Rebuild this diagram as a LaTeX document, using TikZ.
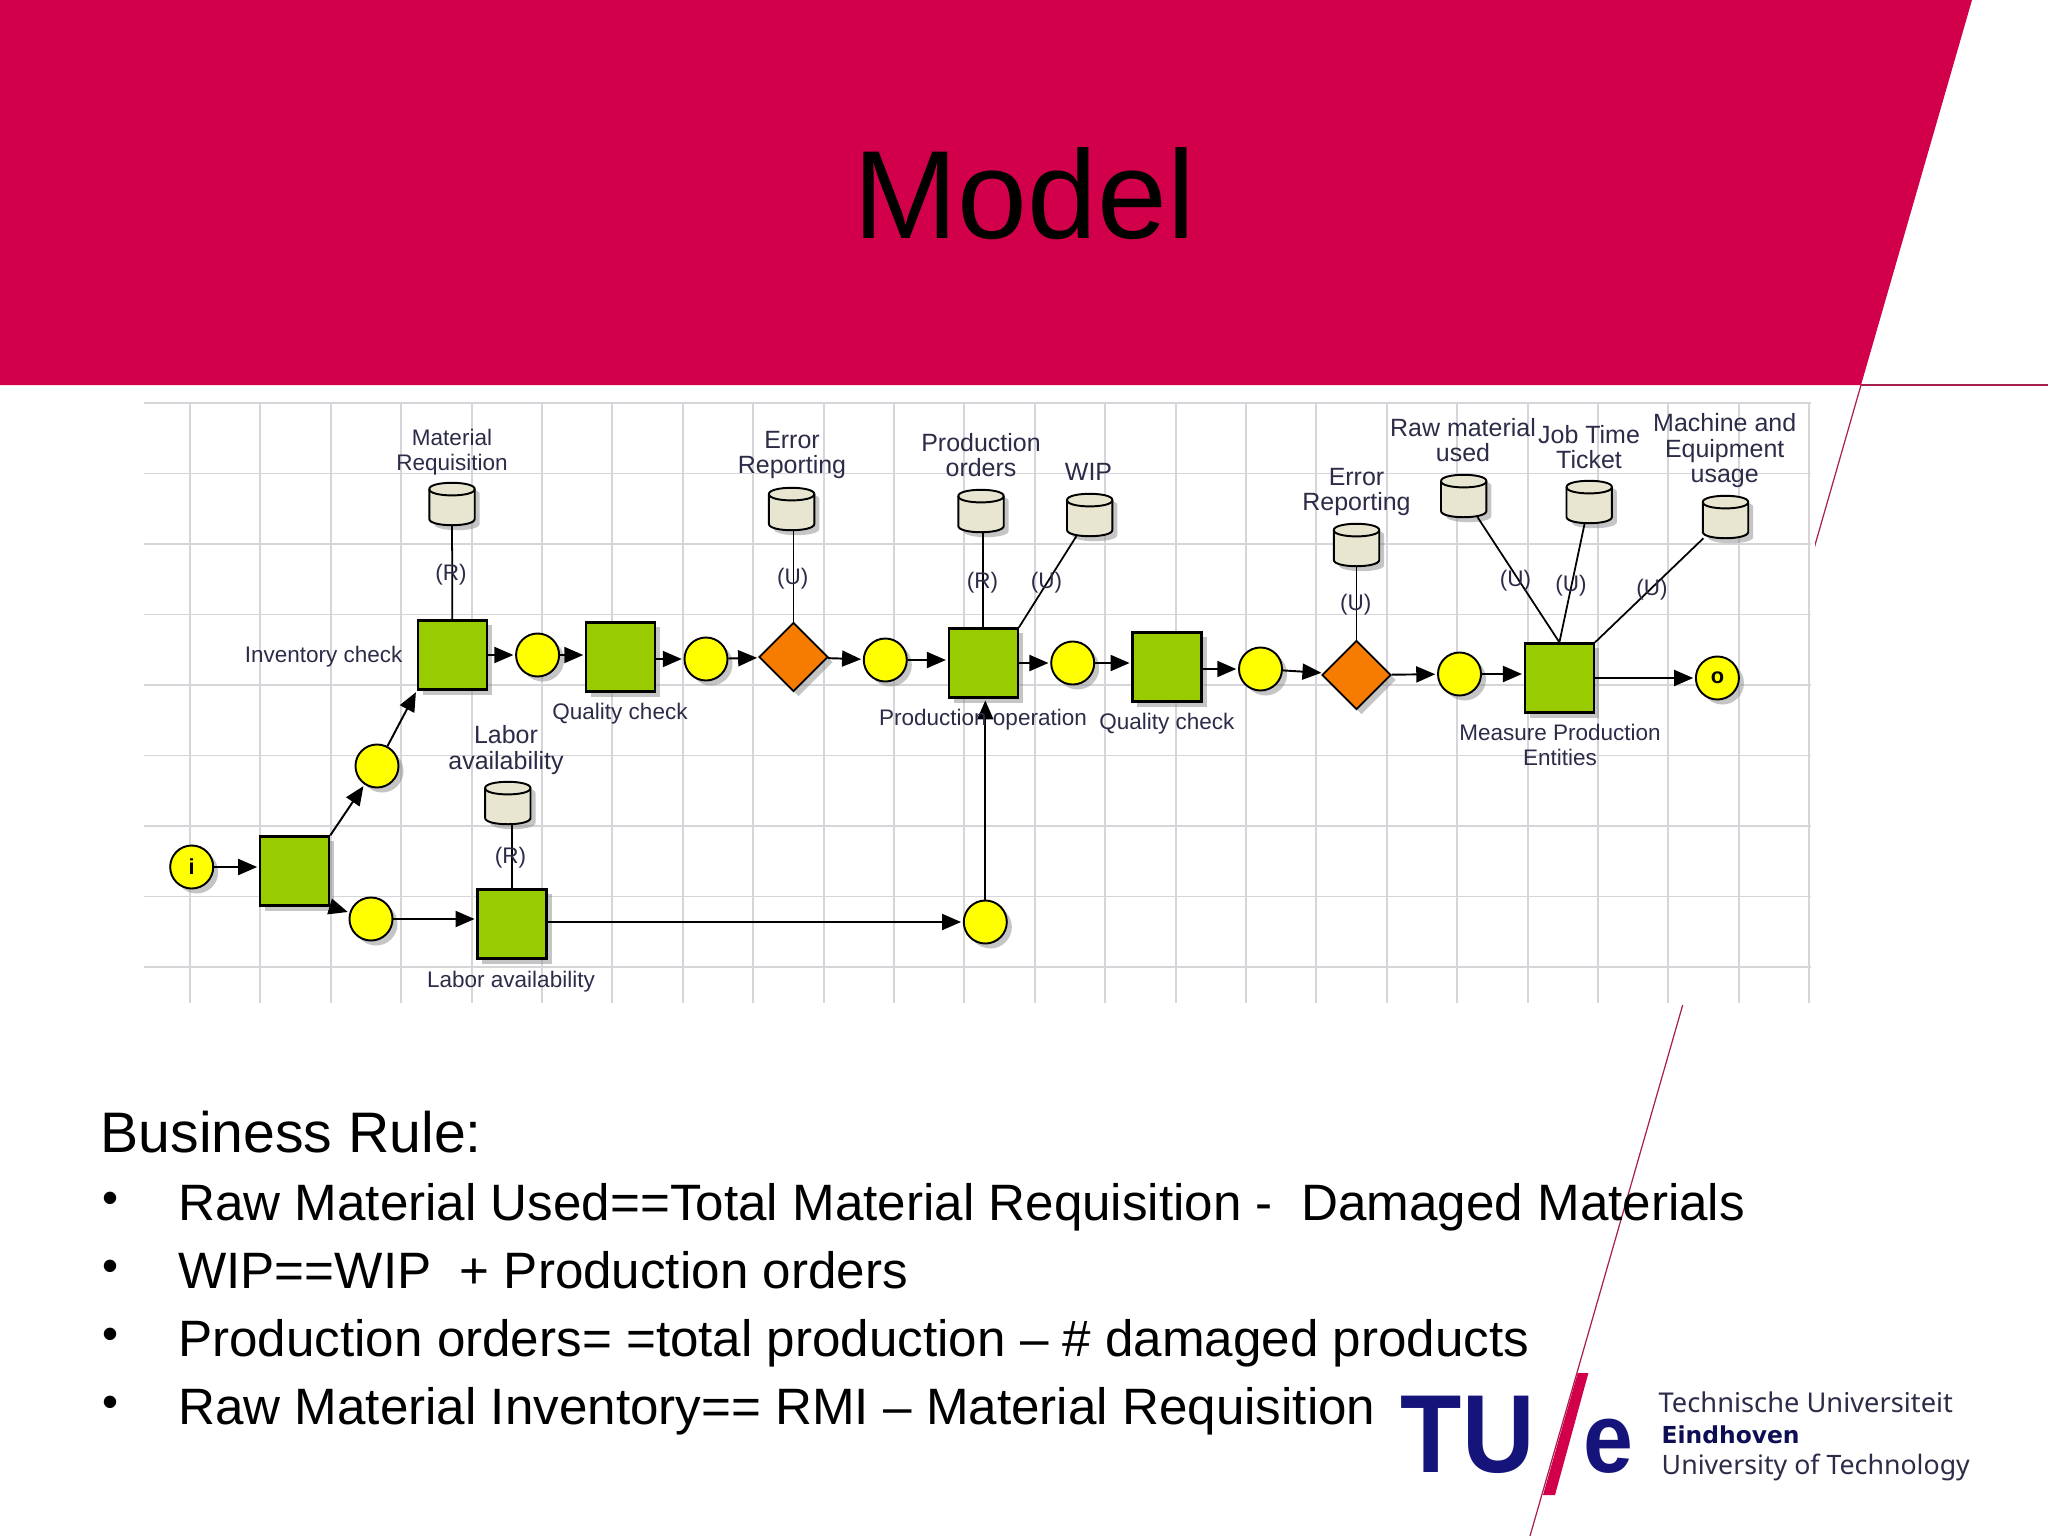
\documentclass[tikz,border=0pt]{standalone}
\usepackage{fontspec}
\setmainfont{Liberation Sans}
\newfontfamily\logofont{Noto Sans}
\newfontfamily\logobold{DejaVu Sans}
\usetikzlibrary{arrows.meta,shapes.geometric,shadows}

\definecolor{tuered}{HTML}{D2004B}
\definecolor{tueblue}{HTML}{14147A}
\definecolor{slantred}{HTML}{A8204C}
\definecolor{gridgray}{HTML}{D6D6DA}
\definecolor{labelink}{HTML}{2C2C48}
\definecolor{taskgreen}{HTML}{99CC00}
\definecolor{placeyellow}{HTML}{FFFF00}
\definecolor{xororange}{HTML}{F57C00}
\definecolor{storebeige}{HTML}{E8E6D0}

\tikzset{
	flat/.style={drop shadow={shadow xshift=0.05cm,shadow yshift=-0.05cm,fill=black!45}},
	task/.style={draw,line width=0.65pt,fill=taskgreen,minimum size=0.69cm,inner sep=0,flat},
	place/.style={circle,draw,line width=0.55pt,fill=placeyellow,minimum size=0.43cm,inner sep=0,flat,font=\fontsize{6.2}{7}\selectfont\bfseries},
	choice/.style={diamond,draw,line width=0.5pt,fill=xororange,minimum width=0.69cm,minimum height=0.69cm,inner sep=0,flat},
	store/.style={minimum width=0.44cm,minimum height=0.41cm,inner sep=0},
	storebody/.style={draw,line width=0.55pt,fill=storebeige,flat},
	lbl/.style={font=\fontsize{6.4}{7.25}\selectfont,text=labelink,align=center,inner sep=0},
	lblwide/.style={font=\fontsize{7.1}{7.25}\selectfont,text=labelink,align=center,inner sep=0},
	flow/.style={line width=0.55pt,-{Triangle[length=0.19cm,width=0.16cm]},shorten >=0.5pt},
	use/.style={line width=0.5pt},
	rule/.style={font=\fontsize{14.55}{16}\selectfont,anchor=base west,inner sep=0}
}

% a named can: name, x, y
\newcommand{\storecan}[3]{
	\node (#1) [store] at (#2,#3) {};
	\draw [storebody] ([yshift=-0.063cm]#1.north west)
		.. controls +(0,0.084cm) and +(0,0.084cm) .. ([yshift=-0.063cm]#1.north east)
		-- ([yshift=0.063cm]#1.south east)
		.. controls +(0,-0.084cm) and +(0,-0.084cm) .. ([yshift=0.063cm]#1.south west) -- cycle;
	\draw [line width=0.55pt] ([yshift=-0.063cm]#1.north west)
		.. controls +(0,-0.084cm) and +(0,-0.084cm) .. ([yshift=-0.063cm]#1.north east);
}

\begin{document}
\begin{tikzpicture}[x=0.01cm,y=-0.01cm]
	\useasboundingbox (0,0) rectangle (2048,1536);

	% slide background
	\draw [slantred, line width=0.35pt] (1861,385) -- (2048,385);
	\draw [slantred, line width=0.35pt] (1861,385) -- (1530,1536);
	\fill [tuered] (0,0) -- (1972,0) -- (1861,385) -- (0,385) -- cycle;
	\fill [white] (130,392) rectangle (1815,1005);
	\node (title) [anchor=base, inner sep=0, font=\fontsize{35.7}{40}\selectfont] at (1024,238) {Model};

	% grid
	\foreach \i in {0,...,23}
		\draw [gridgray, line width=0.55pt] ({190+70.4*\i},403) -- ({190+70.4*\i},1003);
	\foreach \j in {0,...,8}
		\draw [gridgray, line width=0.55pt] (144,{403+70.5*\j}) -- (1811,{403+70.5*\j});

	% places
	\node (pI) [place] at (191.7,867) {i};
	\node (pUp) [place] at (377,766) {};
	\node (pLow) [place] at (371,919) {};
	\node (pA) [place] at (537.6,655) {};
	\node (pB) [place] at (706,659) {};
	\node (pC) [place] at (885.3,660) {};
	\node (pD) [place] at (1072.7,663) {};
	\node (pE) [place] at (1260.5,669) {};
	\node (pF) [place] at (1459.5,674) {};
	\node (pO) [place] at (1717.4,678) {o};
	\node (pJoin) [place] at (985.3,922) {};

	% tasks
	\node (tSplit) [task] at (294.6,871) {};
	\node (tInv) [task] at (452.4,655) {};
	\node (tQualA) [task] at (620.7,657) {};
	\node (tLabor) [task] at (512,924) {};
	\node (tProd) [task] at (983.3,663) {};
	\node (tQualB) [task] at (1167,667) {};
	\node (tMeas) [task] at (1559.4,678) {};

	% choices
	\node (xA) [choice] at (793.5,657) {};
	\node (xB) [choice] at (1356.5,675) {};

	% stores
	\storecan{sMat}{452}{504}
	\storecan{sLab}{507.8}{803}
	\storecan{sErrA}{791.6}{509}
	\storecan{sOrd}{981}{511}
	\storecan{sWip}{1089.7}{515}
	\storecan{sErrB}{1356.5}{545}
	\storecan{sRaw}{1463.7}{496}
	\storecan{sJob}{1589.2}{502}
	\storecan{sMach}{1725.5}{517}

	% flow
	\draw [flow] (pI) -- (pI -| tSplit.west);
	\draw [flow] (tSplit.north east) -- (pUp);
	\draw [flow] (pUp) -- (tInv.south west);
	\draw [flow] (tSplit.south east) -- (pLow);
	\draw [flow] (pLow) -- (pLow -| tLabor.west);
	\draw [flow] (pJoin -| tLabor.east) -- (pJoin);
	\draw [flow] (pJoin) -- (pJoin |- tProd.south);
	\draw [flow] (pA -| tInv.east) -- (pA);
	\draw [flow] (pA) -- (pA -| tQualA.west);
	\draw [flow] (pB -| tQualA.east) -- (pB);
	\draw [flow] (pB) -- (xA);
	\draw [flow] (xA) -- (pC);
	\draw [flow] (pC) -- (pC -| tProd.west);
	\draw [flow] (pD -| tProd.east) -- (pD);
	\draw [flow] (pD) -- (pD -| tQualB.west);
	\draw [flow] (pE -| tQualB.east) -- (pE);
	\draw [flow] (pE) -- (xB);
	\draw [flow] (xB) -- (pF);
	\draw [flow] (pF) -- (pF -| tMeas.west);
	\draw [flow] (pO -| tMeas.east) -- (pO);

	% data links
	\draw [use] (sMat) -- (tInv);
	\draw [use] (tLabor.north |- sLab.south) -- (tLabor.north);
	\draw [use] (xA.north |- sErrA.south) -- (xA.north);
	\draw [use] (tProd.north |- sOrd.south) -- (tProd.north);
	\draw [use] (sWip) -- (tProd.north east);
	\draw [use] (sErrB) -- (xB);
	\draw [use] (sRaw) -- (tMeas.north);
	\draw [use] (sJob) -- (tMeas.north);
	\draw [use] (sMach) -- (tMeas.north east);

	% labels
	\node (lMat) [lbl] at (452,452) {Material\\Requisition};
	\node (lInv) [lbl] at (323.7,657) {Inventory check};
	\node (lQualA) [lbl] at (620,714) {Quality check};
	\node (lLabA) [lblwide] at (506,750) {Labor\\availability};
	\node (lLabB) [lbl] at (511,982) {Labor availability};
	\node (lErrA) [lblwide] at (792,455) {Error\\Reporting};
	\node (lOrd) [lblwide] at (981,455) {Production\\orders};
	\node (lWip) [lblwide] at (1088.5,472) {WIP};
	\node (lProd) [lbl] at (983,720) {Production operation};
	\node (lQualB) [lbl] at (1166.8,724) {Quality check};
	\node (lErrB) [lblwide] at (1356.5,492) {Error\\Reporting};
	\node (lRaw) [lblwide] at (1463,440) {Raw material\\used};
	\node (lJob) [lblwide] at (1589,447) {Job Time\\Ticket};
	\node (lMach) [lblwide] at (1724.7,451) {Machine and\\Equipment\\usage};
	\node (lMeas) [lbl] at (1560,745) {Measure Production\\Entities};

	\node [lbl] at (451,575) {(R)};
	\node [lbl] at (510.4,858) {(R)};
	\node [lbl] at (792.8,579) {(U)};
	\node [lbl] at (982.5,583) {(R)};
	\node [lbl] at (1046.6,583) {(U)};
	\node [lbl] at (1355.8,605) {(U)};
	\node [lbl] at (1515.4,581) {(U)};
	\node [lbl] at (1570.9,586) {(U)};
	\node [lbl] at (1652,590) {(U)};

	% business rules
	\node (head) [rule, font=\fontsize{16.25}{18}\selectfont] at (100,1152) {Business Rule:};
	\foreach \y/\t in {1220/{Raw Material Used==Total Material Requisition -\ \ Damaged Materials},
		1288/{WIP==WIP\ \ + Production orders},
		1356/{Production orders= =total production -- \# damaged products},
		1424/{Raw Material Inventory== RMI -- Material Requisition}} {
		\node [rule, font=\fontsize{13}{15}\selectfont] at (102,{\y-7}) {•};
		\node [rule] at (177.6,\y) {\t};
	}

	% logo
	\fill [tuered] (1577.7,1373) -- (1588.4,1373) -- (1555,1495) -- (1543,1495) -- cycle;
	\node (logoTU) [anchor=base west, inner sep=0, text=tueblue, font=\fontsize{27.7}{30}\selectfont\bfseries] at (1400,1472) {\scalebox{1.03}[1.14]{TU}};
	\node (logoE) [anchor=base west, inner sep=0, text=tueblue, font=\fontsize{27.7}{30}\selectfont\bfseries] at (1583,1472) {\scalebox{0.92}[1.02]{e}};
	\node (logoA) [anchor=base west, inner sep=0, text=labelink, font=\logofont\fontsize{7.75}{8}\selectfont] at (1658,1412) {Technische Universiteit};
	\node (logoB) [anchor=base west, inner sep=0, text=tueblue!70!black, font=\logobold\fontsize{6.65}{8}\selectfont\bfseries] at (1661,1443) {Eindhoven};
	\node (logoC) [anchor=base west, inner sep=0, text=labelink, font=\logofont\fontsize{7.6}{8}\selectfont] at (1661,1474) {University of Technology};
\end{tikzpicture}
\end{document}
